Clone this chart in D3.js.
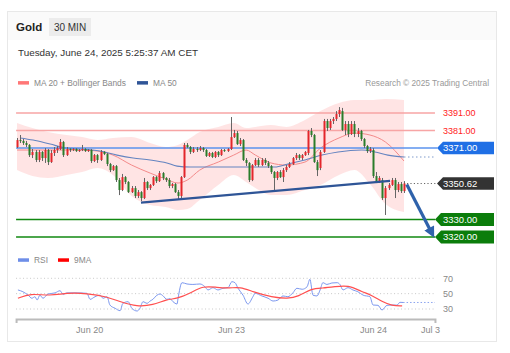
<!DOCTYPE html>
<html><head><meta charset="utf-8">
<script src="https://cdn.jsdelivr.net/npm/d3@7"></script>
<style>body{margin:0;background:#fff;font-family:"Liberation Sans",Arial,sans-serif}</style>
</head><body><svg id="c" width="510" height="353"></svg>
<script>
// ---------- DATA ----------
const opens=[3371.5,3375.5,3375.0,3373.8,3372.7,3366.9,3368.7,3364.1,3368.7,3365.2,
3369.8,3362.9,3368.1,3369.8,3370.4,3374.4,3366.9,3370.4,3369.8,3370.4,
3369.2,3369.8,3370.4,3369.2,3369.8,3363.5,3366.9,3364.1,3368.7,3367.5,
3361.8,3358.3,3360.6,3352.6,3346.9,3354.3,3351.5,3345.7,3348.0,3343.5,
3345.7,3342.3,3351.5,3348.0,3349.8,3354.3,3352.0,3356.6,3353.8,3352.6,
3349.2,3350.3,3345.7,3343.5,3354.3,3372.7,3371.5,3368.7,3370.4,3369.8,
3370.9,3369.8,3366.4,3368.1,3365.8,3368.7,3366.9,3369.8,3369.2,3370.4,
3377.2,3379.5,3373.2,3375.5,3364.1,3362.4,3352.6,3361.2,3364.1,3361.2,
3364.1,3362.4,3360.6,3357.2,3353.8,3357.2,3354.3,3358.3,3360.1,3361.8,
3365.2,3366.9,3365.2,3366.9,3368.1,3380.7,3378.4,3362.9,3359.5,3368.7,
3386.4,3382.4,3386.4,3387.6,3390.4,3392.1,3381.3,3384.7,3379.0,3384.7,
3379.0,3380.7,3376.1,3372.1,3369.2,3369.8,3354.9,3352.0,3352.6,3342.3,
3348.0,3349.8,3352.6,3346.9,3350.3,3346.3];
const closes=[3375.5,3375.0,3373.8,3372.7,3366.9,3368.7,3364.1,3368.7,3365.2,3369.8,
3362.9,3368.1,3369.8,3370.9,3374.4,3366.9,3370.4,3369.8,3370.4,3369.2,
3369.8,3370.4,3369.2,3369.8,3363.5,3366.9,3364.1,3368.7,3367.5,3361.8,
3358.3,3360.6,3352.6,3346.9,3354.3,3351.5,3345.7,3348.0,3343.5,3345.7,
3342.3,3351.5,3348.0,3349.8,3354.3,3352.0,3356.6,3353.8,3352.6,3349.2,
3350.3,3345.7,3343.5,3354.3,3372.7,3371.5,3368.7,3370.4,3369.8,3370.9,
3369.8,3366.4,3368.1,3365.8,3368.7,3366.9,3369.8,3369.2,3370.4,3377.2,
3379.5,3373.2,3375.5,3364.1,3362.4,3352.6,3361.2,3364.1,3361.2,3364.1,
3362.4,3360.6,3357.2,3353.8,3357.2,3354.3,3358.3,3360.1,3361.8,3365.2,
3366.9,3365.2,3366.9,3368.7,3380.7,3378.4,3362.9,3358.3,3368.7,3386.4,
3382.4,3386.4,3387.6,3390.4,3392.7,3381.3,3384.7,3379.0,3384.7,3379.0,
3380.7,3376.1,3372.1,3369.2,3370.4,3354.9,3352.0,3353.8,3342.3,3348.0,
3349.8,3352.6,3346.9,3350.3,3346.3,3350.62];
const highs=[3376.7,3378.4,3376.1,3375.0,3373.2,3370.4,3369.8,3369.8,3369.2,3370.9,
3370.4,3369.8,3371.5,3372.1,3376.1,3375.0,3371.5,3370.9,3370.9,3370.9,
3370.4,3372.7,3370.9,3370.4,3370.4,3367.5,3367.5,3369.8,3369.2,3368.1,
3362.4,3361.2,3361.2,3353.8,3356.1,3354.9,3352.0,3349.2,3349.2,3346.9,
3346.3,3353.8,3352.0,3350.3,3354.9,3354.9,3357.8,3357.2,3354.3,3353.8,
3350.9,3350.9,3346.9,3354.9,3373.8,3373.8,3372.1,3371.5,3371.5,3372.1,
3371.5,3370.4,3368.7,3368.7,3369.2,3369.2,3370.4,3370.4,3370.9,3388.7,
3381.3,3380.7,3376.7,3376.1,3365.2,3362.9,3361.8,3365.2,3365.2,3365.2,
3365.2,3363.5,3361.2,3357.8,3357.8,3358.3,3359.5,3361.2,3362.9,3365.8,
3368.1,3367.5,3367.5,3369.2,3381.3,3382.4,3379.0,3364.1,3369.8,3387.6,
3387.6,3387.6,3388.7,3392.1,3394.4,3393.9,3386.4,3386.4,3386.4,3386.4,
3382.4,3381.3,3376.7,3372.7,3371.5,3370.9,3357.2,3354.9,3353.8,3349.2,
3350.9,3353.8,3353.8,3351.5,3351.5,3352.0];
const lows=[3370.9,3373.8,3372.7,3371.5,3365.8,3365.2,3362.9,3362.9,3363.5,3362.4,
3361.2,3362.4,3366.4,3368.1,3369.8,3365.8,3366.4,3368.7,3369.2,3368.7,
3368.7,3369.2,3368.7,3368.7,3362.4,3362.9,3362.4,3363.5,3366.9,3360.6,
3357.2,3357.8,3351.5,3344.0,3346.3,3350.3,3345.2,3345.2,3342.3,3342.3,
3340.6,3341.7,3346.9,3346.9,3349.2,3350.9,3351.5,3352.6,3351.5,3348.0,
3348.0,3345.2,3341.7,3342.3,3353.8,3370.9,3367.5,3368.1,3368.7,3369.2,
3368.7,3365.8,3365.8,3365.2,3365.2,3365.8,3366.4,3368.7,3368.7,3369.8,
3376.7,3372.7,3372.1,3363.5,3360.6,3351.5,3352.0,3360.6,3360.1,3360.6,
3361.2,3359.5,3356.1,3346.9,3352.6,3353.8,3351.5,3357.2,3359.5,3361.2,
3364.1,3364.1,3364.1,3366.4,3366.9,3377.2,3362.4,3354.9,3358.3,3368.1,
3380.7,3381.3,3384.7,3386.4,3388.7,3380.7,3378.4,3377.2,3378.4,3377.2,
3377.2,3375.0,3370.9,3368.1,3368.1,3353.8,3350.9,3350.9,3341.2,3332.6,
3346.9,3349.2,3342.3,3345.7,3345.2,3345.2];

// Bollinger / MA20 read at sample candle indices
const bbIdx=[0,5,10,16,21,26,31,37,43,48,52,55,59,65,70,74,77,82,87,93,98,104,109,114,119,125];
const bbUpper=[3385.3,3382.4,3380.1,3378.4,3377.2,3375.5,3376.7,3377.2,3373.8,3371.5,3372.7,3375.5,3380.1,3383.0,3385.3,3382.4,3383.0,3384.1,3383.0,3387.0,3392.1,3396.7,3398.4,3398.4,3399.0,3398.4];
const bbLower=[3358.3,3354.9,3353.8,3355.5,3357.2,3359.5,3355.5,3343.5,3338.3,3337.2,3335.4,3336.0,3341.2,3349.8,3355.5,3351.5,3348.0,3344.0,3344.0,3346.9,3349.8,3355.5,3358.3,3350.3,3338.9,3334.3];
const ma20=[3369.8,3369.8,3369.8,3369.8,3369.8,3369.2,3366.9,3361.2,3356.6,3353.2,3350.9,3352.6,3358.3,3362.9,3366.9,3369.8,3366.9,3362.4,3361.2,3362.9,3370.9,3376.7,3379.5,3378.4,3374.4,3363.5];
const ma50Idx=[1.0,5.2,10.7,16.1,21.3,26.8,32.3,37.5,43.0,48.4,51.7,55.9,69.8,83.3,87.5,93.0,98.5,103.7,111.4,115.6,119.8,125];
const ma50=[3376.7,3375.5,3373.2,3370.9,3370.4,3369.2,3366.9,3365.2,3364.1,3362.4,3360.6,3360.1,3360.1,3360.1,3361.8,3364.1,3366.9,3368.7,3369.8,3368.7,3366.9,3365.8];

const resistance=[3391,3381];
const pivot=3371;
const support=[3330,3320];
const lastPrice=3350.62;
const trendIdx=[40.05,120.5], trendVal=[3339.7,3352.1];
const arrowIdx=[125.9,134.5], arrowVal=[3350.0,3320.5];

const rsiIdx=[0.3,1.9,3.6,4.8,5.8,6.5,7.4,8.4,10.0,12.3,13.9,14.9,16.1,19.4,22.6,23.6,25.2,26.8,27.8,29.1,30.0,31.7,33.3,34.2,35.9,37.1,38.8,39.7,40.7,42.0,43.0,43.9,45.2,46.2,47.2,48.4,49.4,50.4,51.7,52.0,53.3,54.9,56.8,59.1,60.7,61.7,63.3,64.9,66.5,68.2,69.4,70.4,71.4,73.0,74.6,76.2,76.9,79.1,81.1,82.7,84.3,85.9,87.5,89.1,90.4,92.1,93.7,94.6,95.6,96.9,97.9,98.8,100.1,101.7,103.4,104.3,105.3,106.9,108.5,110.1,111.8,114.0,115.0,116.6,117.9,119.5,121.1,122.7,123.7,124.7];
const rsiVal=[54.8,52.5,48,44,46,41.7,48,44,49.5,51,53.8,49,51,51,50.4,42.6,46,48,44,46,35.2,30.9,27.8,37.4,39.5,30.9,27.4,30.9,39.5,37.4,40.4,42.6,48,49.5,47,42.6,43.5,39.5,36.5,43.5,64.3,62.6,62,62.6,59,54.8,57.8,54.8,57,58,65.6,64.3,57,48,36.5,46,50.4,47,44,40.4,41.7,47,46,51,57,55.7,59,68.7,48,47,54.8,64.3,62,63.9,64.3,62,54.8,57.8,54.8,52.5,48,46,35.2,34.8,28.7,34.8,35.2,35,38.7,38.5];
const maRsiIdx=[0.3,4.2,10.7,16.1,22.6,29.1,33.3,38.8,43.9,48.4,51.7,55.9,60.1,64.6,68.8,72.0,76.2,82.4,87.5,90.8,95.3,98.5,102.7,106.9,111.4,114.6,117.9,121.1,124.4];
const maRsiVal=[44,50.4,47,51,50.4,46,39.5,33,35.2,42.6,43.5,50.4,60.4,58,57,59,52.5,45.2,43.5,46,57,57,59,61.3,52.5,48,39.5,34.3,34];
const rsiTicks=[30,50,70];
const dateLabels=["Jun 20","Jun 23","Jun 24","Jul 3"];
const dateIdx=[23.3,69.1,115.0,133.4];

// ---------- DRAW ----------
const svg=d3.select('#c');
const F='"Liberation Sans",Arial,sans-serif';
svg.append('rect').attr('x',7.5).attr('y',11.5).attr('width',489).attr('height',330).attr('fill','#fff').attr('stroke','#e8e8e8');
svg.append('rect').attr('x',8).attr('y',12).attr('width',488).attr('height',28).attr('fill','#fafafa');
svg.append('text').attr('x',16).attr('y',31).attr('font-family',F).attr('font-weight','bold').attr('font-size',11.5).attr('fill','#222').text('Gold');
svg.append('rect').attr('x',49).attr('y',18).attr('width',42).attr('height',18).attr('fill','#ececec');
svg.append('text').attr('x',70).attr('y',30.5).attr('text-anchor','middle').attr('font-family',F).attr('font-size',10).attr('fill','#333').text('30 MIN');
svg.append('text').attr('x',18).attr('y',55.7).attr('font-family',F).attr('font-size',9.9).attr('fill','#333').text('Tuesday, June 24, 2025 5:25:37 AM CET');

function legend(x,y,color,label){
  svg.append('rect').attr('x',x).attr('y',y-1.7).attr('width',11).attr('height',3.5).attr('fill',color);
  svg.append('text').attr('x',x+16).attr('y',y+3).attr('font-family',F).attr('font-size',8.4).attr('fill','#888').text(label);
}
legend(18,82.8,'#f77','MA 20 + Bollinger Bands');
legend(137,82.8,'#2f5597','MA 50');
svg.append('text').attr('x',489).attr('y',85.8).attr('text-anchor','end').attr('font-family',F).attr('font-size',8.3).attr('fill','#999').text('Research \u00a9 2025 Trading Central');
legend(18,260,'#6e8ee8','RSI');
legend(58,260,'#f00','9MA');

const x=d3.scaleLinear().domain([0,125]).range([17,404]);
const y=d3.scaleLinear().domain([3320,3391]).range([237,113]);
const ry=d3.scaleLinear().domain([30,70]).range([309,278.3]);
const xL=x(-0.3), xR=x(135);

// bollinger band
const bb=bbIdx.map((d,i)=>({i:d,u:bbUpper[i],l:bbLower[i],m:ma20[i]}));
svg.append('path').datum(bb).attr('fill','#ff2020').attr('fill-opacity',0.12)
  .attr('d',d3.area().curve(d3.curveMonotoneX).x(d=>x(d.i)).y0(d=>y(d.l)).y1(d=>y(d.u)));
svg.append('path').datum(bb).attr('fill','none').attr('stroke','#f48a8a').attr('stroke-width',1)
  .attr('d',d3.line().curve(d3.curveMonotoneX).x(d=>x(d.i)).y(d=>y(d.m)));
const m50=ma50Idx.map((d,i)=>({i:d,v:ma50[i]}));
svg.append('path').datum(m50).attr('fill','none').attr('stroke','#6484c0').attr('stroke-width',1.1)
  .attr('d',d3.line().curve(d3.curveMonotoneX).x(d=>x(d.i)).y(d=>y(d.v)));
svg.append('line').attr('x1',x(125)).attr('x2',xR).attr('y1',y(ma50[ma50.length-1])).attr('y2',y(ma50[ma50.length-1]))
  .attr('stroke','#7f9acb').attr('stroke-dasharray','1.5,2.5');

// levels
resistance.forEach(v=>{
  svg.append('line').attr('x1',xL).attr('x2',xR).attr('y1',y(v)).attr('y2',y(v)).attr('stroke','#f7a5a5').attr('stroke-width',1.5);
  svg.append('text').attr('x',443).attr('y',y(v)+3.3).attr('font-family',F).attr('font-size',9).attr('fill','#f22').text(v.toFixed(2));
});
svg.append('line').attr('x1',xL).attr('x2',437).attr('y1',y(pivot)).attr('y2',y(pivot)).attr('stroke','#5b93ee').attr('stroke-width',1.5);
support.forEach(v=>{
  svg.append('line').attr('x1',xL).attr('x2',435).attr('y1',y(v)).attr('y2',y(v)).attr('stroke','#118811').attr('stroke-width',1.5);
});

function box(x0,yc,w,h,color,label){
  svg.append('path').attr('fill',color)
    .attr('d',`M${x0},${yc}L${x0+6},${yc-h/2}L${x0+w},${yc-h/2}L${x0+w},${yc+h/2}L${x0+6},${yc+h/2}Z`);
  svg.append('text').attr('x',443).attr('y',yc+3.4).attr('font-family',F).attr('font-size',9.5).attr('fill','#fff').text(label);
}

// candles
const data=opens.map((o,i)=>({i,o,c:closes[i],h:highs[i],l:lows[i]}));
const g=svg.append('g');
g.selectAll('line.w').data(data).enter().append('line')
  .attr('x1',d=>Math.round(x(d.i))+0.5).attr('x2',d=>Math.round(x(d.i))+0.5)
  .attr('y1',d=>y(d.h)).attr('y2',d=>y(d.l)).attr('stroke','#666').attr('stroke-width',1);
g.selectAll('rect.b').data(data).enter().append('rect')
  .attr('x',d=>Math.round(x(d.i))-0.5).attr('width',2)
  .attr('y',d=>y(Math.max(d.o,d.c))).attr('height',d=>Math.max(1,Math.abs(y(d.o)-y(d.c))))
  .attr('fill',d=>d.c>=d.o?'#e3262b':'#2a7d2a');

// trend line and arrow
svg.append('line').attr('x1',x(trendIdx[0])).attr('y1',y(trendVal[0])).attr('x2',x(trendIdx[1])).attr('y2',y(trendVal[1]))
  .attr('stroke','#2f5597').attr('stroke-width',2.2);
const defs=svg.append('defs');
defs.append('marker').attr('id','ah').attr('viewBox','0 0 10 10').attr('refX',2).attr('refY',5)
  .attr('markerWidth',3.6).attr('markerHeight',3.4).attr('orient','auto')
  .append('path').attr('d','M0,0L10,5L0,10Z').attr('fill','#2f62ab');
const ax1=x(arrowIdx[0]), ay1=y(arrowVal[0]), ax2=x(arrowIdx[1]), ay2=y(arrowVal[1]);
const ang=Math.atan2(ay2-ay1,ax2-ax1);
svg.append('line').attr('x1',ax1).attr('y1',ay1).attr('x2',ax2-7*Math.cos(ang)).attr('y2',ay2-7*Math.sin(ang))
  .attr('stroke','#2f62ab').attr('stroke-width',3.2).attr('marker-end','url(#ah)');

// last price dotted
svg.append('line').attr('x1',x(125)+3).attr('x2',437).attr('y1',y(lastPrice)).attr('y2',y(lastPrice))
  .attr('stroke','#666').attr('stroke-dasharray','1.2,2.2');
box(437,y(pivot),57,12.5,'#1f6fe5',pivot.toFixed(2));
box(437,y(lastPrice),57,12.5,'#333',lastPrice.toFixed(2));
support.forEach(v=>box(435,y(v),59,13,'#0b7d0b',v.toFixed(2)));

// RSI panel
rsiTicks.forEach(t=>{
  svg.append('line').attr('x1',xL).attr('x2',xR).attr('y1',ry(t)).attr('y2',ry(t)).attr('stroke','#c8c8c8').attr('stroke-dasharray','1,2.5');
});
const ra=d3.axisRight(ry).tickValues(rsiTicks).tickSize(0).tickPadding(0);
const rg=svg.append('g').attr('transform','translate(443,0)').call(ra);
rg.select('.domain').remove();
rg.selectAll('text').attr('font-family',F).attr('font-size',9).attr('fill','#888');
const rs=rsiIdx.map((d,i)=>({i:d,v:rsiVal[i]}));
svg.append('path').datum(rs).attr('fill','none').attr('stroke','#7c98ef').attr('stroke-width',1)
  .attr('d',d3.line().curve(d3.curveMonotoneX).x(d=>x(d.i)).y(d=>ry(d.v)));
svg.append('line').attr('x1',x(rsiIdx[rsiIdx.length-1])).attr('x2',xR).attr('y1',ry(rsiVal[rsiVal.length-1])).attr('y2',ry(rsiVal[rsiVal.length-1]))
  .attr('stroke','#8aa3ef').attr('stroke-dasharray','1.5,2');
const mr=maRsiIdx.map((d,i)=>({i:d,v:maRsiVal[i]}));
svg.append('path').datum(mr).attr('fill','none').attr('stroke','#ff5050').attr('stroke-width',1.2)
  .attr('d',d3.line().curve(d3.curveBasis).x(d=>x(d.i)).y(d=>ry(d.v)));

// time axis
const xa=x.copy().domain([-0.3,135]).range([xL,xR]);
const axis=d3.axisBottom(xa).tickValues(dateIdx).tickFormat((d,i)=>dateLabels[i]).tickSizeInner(0).tickSizeOuter(4).tickPadding(7.5);
const ag=svg.append('g').attr('transform','translate(0,319)').call(axis);
ag.select('.domain').attr('stroke','#bbb').attr('stroke-width',2);
ag.selectAll('text').attr('font-family',F).attr('font-size',9).attr('fill','#888');
</script></body></html>
